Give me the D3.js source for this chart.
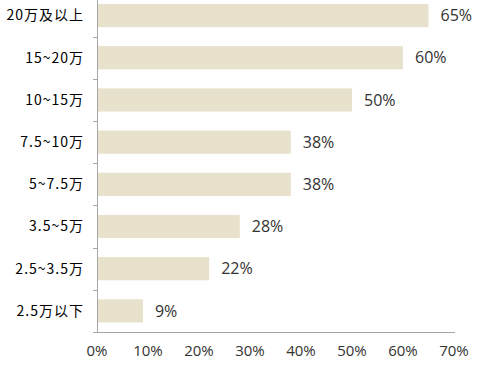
<!DOCTYPE html>
<html><head><meta charset="utf-8">
<script src="https://cdn.jsdelivr.net/npm/d3@7"></script>
<style>body{margin:0;background:#fff}</style>
</head><body>
<script>
const categories = ["20万及以上","15~20万","10~15万","7.5~10万","5~7.5万","3.5~5万","2.5~3.5万","2.5万以下"];
const values = [65,60,50,38,38,28,22,9];
const xTicks = [0,10,20,30,40,50,60,70];

const W = 482, H = 366;
const svg = d3.select("body").append("svg").attr("width",W).attr("height",H);
const x = d3.scaleLinear().domain([0,70]).range([97,454]);
const y = d3.scaleBand().domain(categories).range([-5.5,332]).paddingInner(0.45).paddingOuter(0.225);

svg.selectAll("rect.bar").data(values).enter().append("rect")
  .attr("x", x(0)+1)
  .attr("y",(d,i)=>y(categories[i]))
  .attr("width",d=>x(d)-x(0)-1)
  .attr("height",y.bandwidth())
  .attr("fill","#e8e1cb");

svg.selectAll("text.val").data(values).enter().append("text")
  .attr("x",d=>x(d)+12)
  .attr("y",(d,i)=>y(categories[i])+y.bandwidth()/2)
  .attr("dy","0.35em")
  .attr("font-family","Open Sans, sans-serif")
  .attr("font-size",16)
  .attr("fill","#333")
  .text(d=>d+"%");

// y axis
const axisColor = "#a6a6a6";
svg.append("line").attr("x1",97.5).attr("x2",97.5).attr("y1",0).attr("y2",332).attr("stroke",axisColor);
const step = y.step();
const bounds = categories.slice(1).map(c=>y(c)-y.paddingInner()*step/2);
svg.selectAll("line.yt").data(bounds).enter().append("line")
  .attr("x1",93).attr("x2",97).attr("y1",d=>Math.round(d)+0.5).attr("y2",d=>Math.round(d)+0.5).attr("stroke",axisColor);
svg.selectAll("text.cat").data(categories).enter().append("text")
  .attr("x",84)
  .attr("y",d=>y(d)+y.bandwidth()/2)
  .attr("dy","0.35em")
  .attr("text-anchor","end")
  .attr("font-family","Noto Sans CJK SC, sans-serif")
  .attr("font-size",14)
  .attr("letter-spacing",1)
  .attr("fill","#000")
  .text(d=>d);

// x axis
svg.append("line").attr("x1",93).attr("x2",455).attr("y1",332.5).attr("y2",332.5).attr("stroke",axisColor);
svg.selectAll("text.xt").data(xTicks).enter().append("text")
  .attr("x",d=>x(d))
  .attr("y",351)
  .attr("dy","0.35em")
  .attr("text-anchor","middle")
  .attr("font-family","Open Sans, sans-serif")
  .attr("font-size",15)
  .attr("fill","#333")
  .text(d=>d+"%");
</script>
</body></html>
